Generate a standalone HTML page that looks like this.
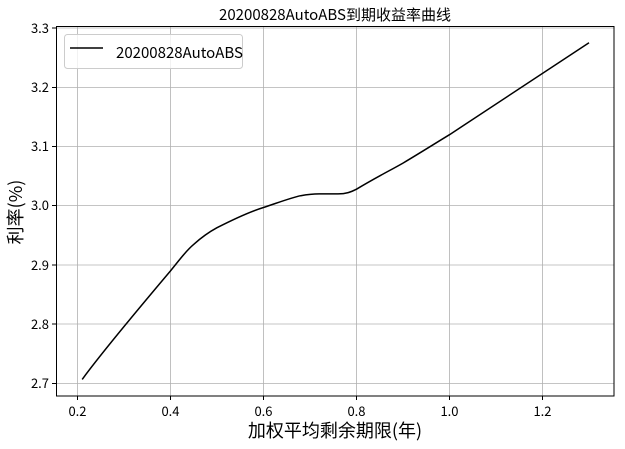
<!DOCTYPE html><html><head><style>body{margin:0;background:#fff}svg text{font-family:"WenQuanYi Zen Hei","Noto Sans CJK SC",sans-serif}</style></head><body>
<svg width="625" height="444" xmlns="http://www.w3.org/2000/svg">
<rect width="625" height="444" fill="#fff"/>
<g stroke="#b0b0b0" stroke-width="0.8">
<line x1="77.5" y1="27" x2="77.5" y2="396"/><line x1="170.5" y1="27" x2="170.5" y2="396"/><line x1="263.5" y1="27" x2="263.5" y2="396"/><line x1="356.5" y1="27" x2="356.5" y2="396"/><line x1="449.5" y1="27" x2="449.5" y2="396"/><line x1="542.5" y1="27" x2="542.5" y2="396"/>
<line x1="56" y1="28" x2="614" y2="28"/><line x1="56" y1="87.5" x2="614" y2="87.5"/><line x1="56" y1="146.5" x2="614" y2="146.5"/><line x1="56" y1="205.5" x2="614" y2="205.5"/><line x1="56" y1="265" x2="614" y2="265"/><line x1="56" y1="324" x2="614" y2="324"/><line x1="56" y1="383.5" x2="614" y2="383.5"/>
</g>
<rect x="56.5" y="26.5" width="557.5" height="369.5" fill="none" stroke="#000" stroke-width="1"/>
<g stroke="#000"><line x1="77.5" y1="396" x2="77.5" y2="400"/><line x1="170.5" y1="396" x2="170.5" y2="400"/><line x1="263.5" y1="396" x2="263.5" y2="400"/><line x1="356.5" y1="396" x2="356.5" y2="400"/><line x1="449.5" y1="396" x2="449.5" y2="400"/><line x1="542.5" y1="396" x2="542.5" y2="400"/>
<line x1="52" y1="28" x2="56" y2="28"/><line x1="52" y1="87.5" x2="56" y2="87.5"/><line x1="52" y1="146.5" x2="56" y2="146.5"/><line x1="52" y1="205.5" x2="56" y2="205.5"/><line x1="52" y1="265" x2="56" y2="265"/><line x1="52" y1="324" x2="56" y2="324"/><line x1="52" y1="383.5" x2="56" y2="383.5"/></g>
<g font-size="13" text-anchor="middle"><text x="77.5" y="416">0.2</text><text x="170.5" y="416">0.4</text><text x="263.5" y="416">0.6</text><text x="356.5" y="416">0.8</text><text x="449.5" y="416">1.0</text><text x="542.5" y="416">1.2</text></g>
<g font-size="13" text-anchor="end"><text x="49" y="33">3.3</text><text x="49" y="92">3.2</text><text x="49" y="151">3.1</text><text x="49" y="210">3.0</text><text x="49" y="270">2.9</text><text x="49" y="329">2.8</text><text x="49" y="388">2.7</text></g>
<text x="335" y="20" font-size="15" text-anchor="middle">20200828AutoABS到期收益率曲线</text>
<text x="335" y="437" font-size="18" text-anchor="middle">加权平均剩余期限(年)</text>
<text transform="translate(22,212) rotate(-90)" font-size="18" text-anchor="middle">利率(%)</text>
<path d="M82.2,379.4 C100,355 140,307 170.5,270.9 C180,259 187,250 193.8,244.3 C203,236 210,231.5 217,227.7 C240,216 252,211 263.5,207.5 C280,202 292,197.5 300.7,195.7 C310,194 315,193.9 319.3,193.9 L338,193.9 C346,193.9 351,192 356.5,189.2 C375,178 390,170.5 403,163.1 C420,153 435,143.5 449.5,134.7 L589,42.8" fill="none" stroke="#000" stroke-width="1.5"/>
<rect x="64.5" y="34.5" width="178" height="34" rx="3" fill="#fff" fill-opacity="0.8" stroke="#ccc"/>
<line x1="70" y1="48" x2="103" y2="48" stroke="#000" stroke-width="1.5"/>
<text x="116" y="58" font-size="15">20200828AutoABS</text>
</svg></body></html>
